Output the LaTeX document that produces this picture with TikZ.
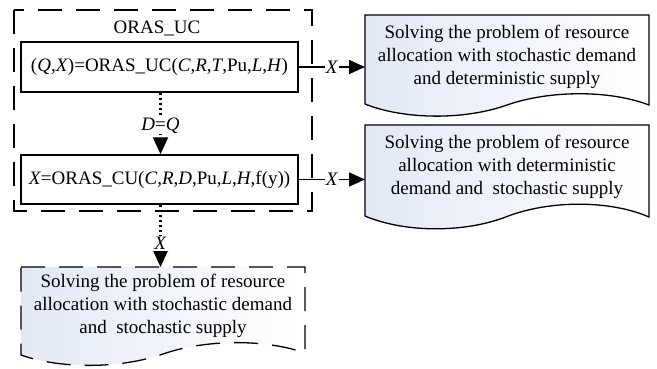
\documentclass[tikz,border=0pt]{standalone}
\usepackage{fontspec}
\setmainfont{Liberation Serif}
\usetikzlibrary{arrows.meta}
\definecolor{docblue}{RGB}{226,233,245}
\tikzset{
  big/.style={font=\fontsize{19}{23.3}\selectfont},
  outerbox/.style={draw, line width=1.3pt, dash pattern=on 24pt off 14pt},
  procbox/.style={draw, line width=1.5pt, minimum width=277pt, inner sep=0pt, big},
  docshape/.style={draw, line width=1.3pt, left color=docblue, right color=white},
  docdash/.style={docshape, dash pattern=on 24pt off 14pt},
  doctext/.style={align=center, big, inner sep=0pt},
  conn/.style={line width=1.5pt, -{Triangle[length=16pt,width=14pt]}},
  dotconn/.style={line width=2.2pt, dash pattern=on 2.5pt off 2.5pt, -{Triangle[length=17pt,width=15pt]}},
  lbl/.style={fill=white, inner sep=1pt, big},
}
\begin{document}
\begin{tikzpicture}[x=1pt,y=-1pt]
\useasboundingbox (0,0) rectangle (657,368);
% outer dashed group
\draw[outerbox] (14,10) rectangle (312,211);
\node[big] (title) at (157,28) {ORAS\_UC};
% process boxes
\node[procbox, minimum height=50pt] (box1) at (159.5,67)
  {(\textit{Q},\textit{X})=ORAS\_UC(\textit{C},\textit{R},\textit{T},Pu,\textit{L},\textit{H})};
\node[procbox, minimum height=49pt] (box2) at (159.5,179.5)
  {\textit{X}=ORAS\_CU(\textit{C},\textit{R},\textit{D},Pu,\textit{L},\textit{H},f(y))};
% document 1
\path[docshape] (365,15) -- (649,15) -- (649,105)
  .. controls (610,90) and (550,90) .. (507,105)
  .. controls (465,120) and (405,120) .. (365,104) -- cycle;
\node[doctext] (doc1) at (507,57) {Solving the problem of resource\\allocation with stochastic demand\\and deterministic supply};
\coordinate (d1in) at (365,67);
% document 2
\path[docshape] (365,125) -- (649,125) -- (649,217)
  .. controls (610,200) and (550,200) .. (507,216.5)
  .. controls (465,233) and (405,233) .. (365,216) -- cycle;
\node[doctext] (doc2) at (507,167) {Solving the problem of resource\\allocation with deterministic\\demand and\ \ stochastic supply};
\coordinate (d2in) at (365,179.5);
% document 3 (dashed)
\path[docdash] (21,267) -- (305,267) -- (305,353)
  .. controls (266,339) and (206,339) .. (163,354)
  .. controls (120,369) and (60,369) .. (21,355) -- cycle;
\node[doctext] (doc3) at (163,306) {Solving the problem of resource\\allocation with stochastic demand\\and\ \ stochastic supply};
\coordinate (d3in) at (160.5,267);
% connectors
\draw[conn] (box1.east) -- node[lbl] {\textit{X}} (d1in);
\draw[conn] (box2.east) -- node[lbl] {\textit{X}} (d2in);
\draw[dotconn] (box1.south -| 160.5,0) -- node[lbl, pos=0.53] {\textit{D}=\textit{Q}} (box2.north -| 160.5,0);
\draw[dotconn] (box2.south -| 160.5,0) -- node[lbl, pos=0.62] {\textit{X}} (d3in);
\end{tikzpicture}
\end{document}
